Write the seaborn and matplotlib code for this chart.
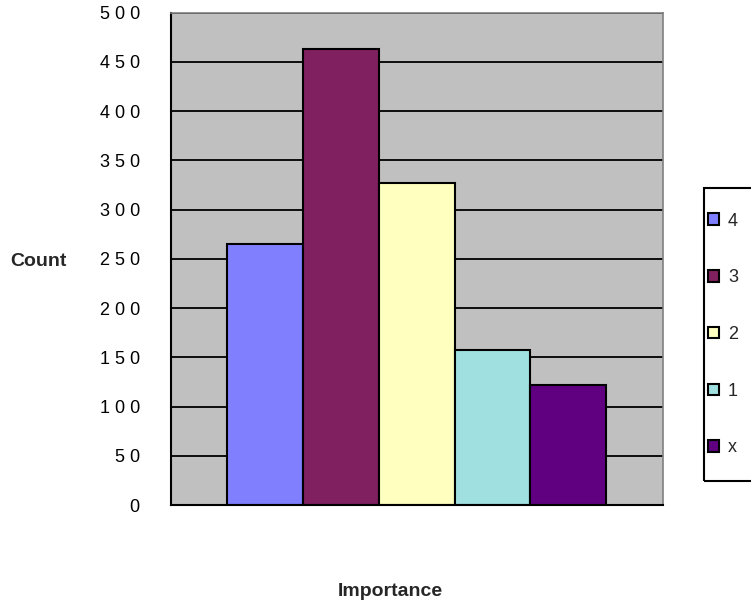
import matplotlib
matplotlib.use("Agg")
import matplotlib.pyplot as plt
from matplotlib.patches import Rectangle
import seaborn as sns
import pandas as pd

# Response counts per importance level
levels = ["4", "3", "2", "1", "x"]
counts = [265, 463, 327, 157, 122]
colors = ["#8080FF", "#802060", "#FFFFC0", "#A0E0E0", "#600080"]
y_ticks = [0, 50, 100, 150, 200, 250, 300, 350, 400, 450, 500]
y_tick_labels = [" ".join(str(v)) for v in y_ticks]

df = pd.DataFrame({"group": [""] * len(levels), "level": levels, "count": counts})

sns.set_theme(style="white")
plt.rcParams["font.family"] = ["Liberation Sans", "DejaVu Sans"]

fig = plt.figure(figsize=(7.51, 6.08), dpi=100)
W, H = 751, 608
ax = fig.add_axes([170.7 / W, (H - 505) / H, (662.7 - 170.7) / W, (505 - 12.7) / H])
ax.set_facecolor("#C0C0C0")

sns.barplot(data=df, x="group", y="count", hue="level", hue_order=levels,
            palette=colors, width=0.77, edgecolor="black", linewidth=1.5,
            saturation=1, ax=ax, legend=True)

ax.set_xlim(-0.5, 0.5)
ax.set_ylim(0, 500)
ax.set_yticks(y_ticks)
ax.set_yticklabels(y_tick_labels, fontsize=13, color="black")
ax.set_xticks([-0.5, 0.5])
ax.set_xticklabels(["", ""])
ax.set_xlabel("")
ax.set_ylabel("")

ax.yaxis.grid(True, color="black", linewidth=1.3)
ax.set_axisbelow(True)
ax.tick_params(axis="both", direction="inout", length=17, width=1.5,
               color="black", pad=13.7)
ax.tick_params(axis="x", pad=2)

for side in ("left", "bottom"):
    ax.spines[side].set_color("black")
    ax.spines[side].set_linewidth(1.5)
for side in ("top", "right"):
    ax.spines[side].set_color("#808080")
    ax.spines[side].set_linewidth(1.2)

# Legend: frame drawn as a figure patch, entries placed inside it
handles, labels = ax.get_legend_handles_labels()
ax.get_legend().remove()
box_left, box_top, box_bottom = 704, 188, 481
frame = Rectangle((box_left / W, (H - box_bottom) / H), 0.2, (box_bottom - box_top) / H,
                  transform=fig.transFigure, fill=False, edgecolor="black",
                  linewidth=1.5, clip_on=False)
fig.patches.append(frame)
leg = fig.legend(handles, labels, loc="center left",
                 bbox_to_anchor=(708 / W, 1 - ((box_top + box_bottom) / 2) / H),
                 frameon=False, fontsize=13, handlelength=0.6, handleheight=0.6,
                 handletextpad=0.5, labelspacing=2.2, borderpad=0, borderaxespad=0)

fig.text(38.5 / W, 1 - 261 / H, "Count", fontsize=14, fontweight="bold",
         ha="center", va="center")
fig.text(390 / W, 1 - 592 / H, "Importance", fontsize=14, fontweight="bold",
         ha="center", va="center")

fig.savefig("out.png", dpi=100)
